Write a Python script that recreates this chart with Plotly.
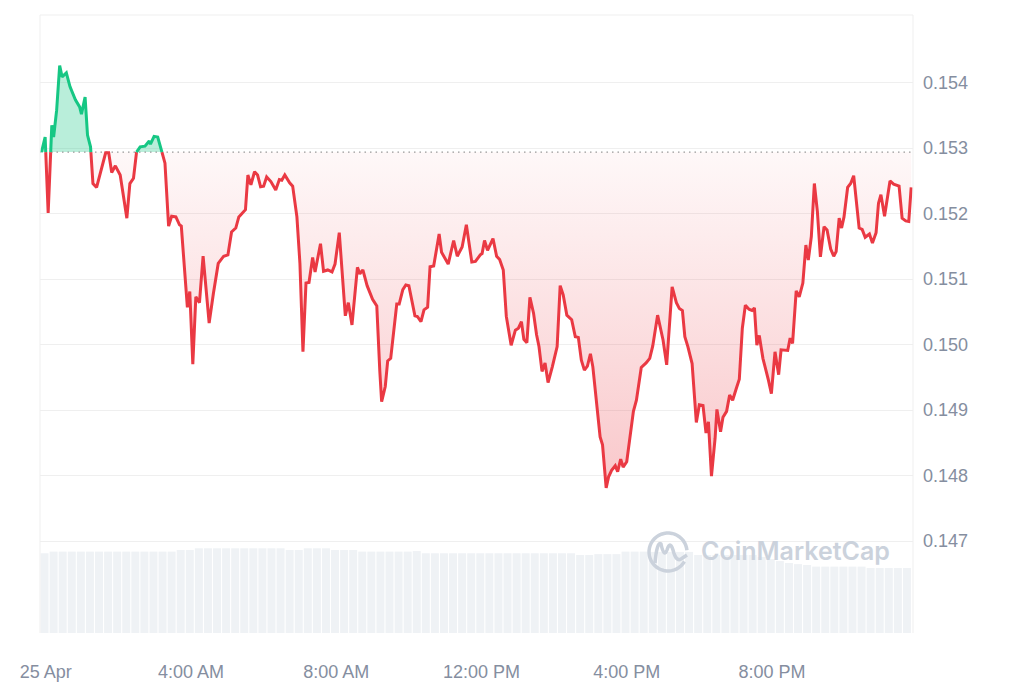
import math
import plotly.graph_objects as go

# ---------------- data ----------------
open_price = 0.15294  # reference price shown by the dotted line

# minutes after 00:00 on 25 Apr
minutes = [-7, -1, 4, 10, 13, 18, 23, 27, 34, 40, 49, 56, 59, 65, 69, 74, 78, 84, 92, 99,
           104, 109, 115, 123, 134, 139, 145, 150, 156, 164, 171, 173, 179, 185, 192, 197, 203, 208, 215, 221,
           224, 230, 234, 238, 243, 248, 254, 260, 263, 270, 277, 285, 294, 301, 307, 314, 319, 330, 334, 339,
           345, 350, 355, 360, 365, 372, 380, 386, 390, 395, 403, 408, 415, 420, 425, 430, 435, 441, 445, 454,
           459, 466, 473, 478, 485, 495, 500, 506, 515, 519, 524, 531, 540, 547, 552, 555, 561, 565, 570, 580,
           584, 590, 595, 600, 610, 614, 620, 625, 631, 635, 641, 650, 654, 665, 674, 680, 688, 695, 704, 710,
           718, 721, 725, 730, 739, 745, 750, 756, 761, 769, 776, 781, 786, 790, 795, 800, 806, 811, 815, 820,
           825, 830, 837, 845, 850, 855, 861, 869, 875, 880, 885, 890, 895, 900, 904, 910, 916, 920, 926, 930,
           935, 941, 945, 950, 954, 960, 965, 971, 976, 984, 992, 998, 1003, 1011, 1020, 1026, 1035, 1042, 1047, 1052,
           1056, 1061, 1068, 1075, 1080, 1086, 1091, 1095, 1100, 1106, 1109, 1115, 1119, 1125, 1130, 1135, 1141, 1146, 1151, 1156,
           1162, 1167, 1171, 1175, 1179, 1185, 1194, 1199, 1205, 1211, 1215, 1222, 1226, 1230, 1234, 1240, 1245, 1251, 1256, 1260,
           1265, 1270, 1275, 1280, 1286, 1291, 1297, 1302, 1306, 1311, 1315, 1319, 1325, 1330, 1335, 1344, 1349, 1354, 1361, 1366,
           1372, 1376, 1380, 1386, 1390, 1395, 1401, 1410, 1415, 1421, 1426, 1430]

prices = [0.15294, 0.15317, 0.15201, 0.15335, 0.15317, 0.15358, 0.15426, 0.15409, 0.15415, 0.15394,
          0.15374, 0.15363, 0.15352, 0.15378, 0.15320, 0.15302, 0.15246, 0.15240, 0.15269, 0.15293,
          0.15293, 0.15263, 0.15273, 0.15259, 0.15193, 0.15246, 0.15254, 0.15294, 0.15302, 0.15303,
          0.15311, 0.15306, 0.15318, 0.15317, 0.15294, 0.15277, 0.15181, 0.15196, 0.15195, 0.15183,
          0.15181, 0.15099, 0.15057, 0.15081, 0.14970, 0.15073, 0.15064, 0.15135, 0.15105, 0.15033,
          0.15078, 0.15124, 0.15135, 0.15137, 0.15172, 0.15178, 0.15195, 0.15206, 0.15259, 0.15244,
          0.15264, 0.15259, 0.15241, 0.15242, 0.15256, 0.15249, 0.15236, 0.15252, 0.15251, 0.15259,
          0.15247, 0.15242, 0.15195, 0.15124, 0.14989, 0.15094, 0.15095, 0.15133, 0.15111, 0.15154,
          0.15112, 0.15114, 0.15111, 0.15123, 0.15171, 0.15044, 0.15064, 0.15030, 0.15118, 0.15108,
          0.15114, 0.15090, 0.15069, 0.15059, 0.14959, 0.14913, 0.14936, 0.14975, 0.14979, 0.15062,
          0.15062, 0.15084, 0.15091, 0.15090, 0.15044, 0.15043, 0.15035, 0.15053, 0.15057, 0.15119,
          0.15120, 0.15169, 0.15141, 0.15123, 0.15159, 0.15135, 0.15149, 0.15183, 0.15126, 0.15127,
          0.15137, 0.15139, 0.15159, 0.15144, 0.15162, 0.15135, 0.15130, 0.15114, 0.15043, 0.14999,
          0.15022, 0.15025, 0.15035, 0.15008, 0.15003, 0.15072, 0.15048, 0.15015, 0.14997, 0.14959,
          0.14972, 0.14942, 0.14966, 0.14997, 0.15090, 0.15076, 0.15045, 0.15038, 0.15012, 0.15011,
          0.14976, 0.14961, 0.14967, 0.14986, 0.14966, 0.14912, 0.14859, 0.14847, 0.14781, 0.14798,
          0.14808, 0.14815, 0.14806, 0.14825, 0.14813, 0.14821, 0.14857, 0.14898, 0.14915, 0.14965,
          0.14972, 0.14979, 0.14998, 0.15045, 0.15007, 0.14969, 0.15088, 0.15064, 0.15055, 0.15052,
          0.15012, 0.14997, 0.14971, 0.14881, 0.14908, 0.14907, 0.14865, 0.14882, 0.14799, 0.14857,
          0.14901, 0.14867, 0.14889, 0.14898, 0.14923, 0.14915, 0.14933, 0.14947, 0.15025, 0.15060,
          0.15054, 0.15052, 0.15056, 0.14999, 0.15014, 0.14979, 0.14946, 0.14925, 0.14989, 0.14954,
          0.14992, 0.14992, 0.14991, 0.15010, 0.15002, 0.15082, 0.15073, 0.15094, 0.15152, 0.15129,
          0.15165, 0.15246, 0.15203, 0.15134, 0.15180, 0.15175, 0.15146, 0.15135, 0.15142, 0.15193,
          0.15178, 0.15195, 0.15240, 0.15246, 0.15258, 0.15178, 0.15176, 0.15164, 0.15169, 0.15155,
          0.15171, 0.15216, 0.15229, 0.15196, 0.15221, 0.15250, 0.15245, 0.15242, 0.15193, 0.15189,
          0.15188, 0.15240]

# volume bars, one per 15 minutes (arbitrary units, read as relative bar heights)
vol_minutes = [15 * k - 2 for k in range(96)]
volumes = [287, 293, 293, 293, 293, 293, 293, 293, 293, 293, 293, 293, 293, 293, 293, 299,
           299, 305, 305, 305, 305, 305, 305, 305, 305, 305, 305, 299, 299, 305, 305, 305,
           299, 299, 299, 293, 293, 293, 293, 293, 293, 295, 287, 287, 287, 287, 287, 287,
           287, 287, 287, 287, 287, 287, 287, 287, 287, 287, 287, 281, 281, 284, 284, 284,
           293, 293, 293, 292, 292, 292, 292, 292, 281, 281, 281, 281, 281, 281, 281, 274,
           266, 259, 252, 248, 245, 239, 239, 239, 239, 239, 239, 234, 234, 234, 234, 234]

tick_minutes = [0, 240, 480, 720, 960, 1200]
tick_labels = ["25 Apr", "4:00 AM", "8:00 AM", "12:00 PM", "4:00 PM", "8:00 PM"]
price_ticks = [0.147, 0.148, 0.149, 0.150, 0.151, 0.152, 0.153, 0.154]
price_tick_labels = ["0.147", "0.148", "0.149", "0.150", "0.151", "0.152", "0.153", "0.154"]

# ---------------- styling ----------------
GREEN = "#16c784"
RED = "#ea3943"
GRID = "#efefef"
TEXT = "#858ea0"
MARK = "#cbd2dc"
X_RANGE = [-9.5, 1433]
Y_RANGE = [0.145595, 0.155034]

# insert the crossings with the open price so the two colours meet cleanly
base = open_price
xs, ys = [minutes[0]], [prices[0]]
for i in range(1, len(prices)):
    t0, p0, t1, p1 = minutes[i - 1], prices[i - 1], minutes[i], prices[i]
    if (p0 - base) * (p1 - base) < 0:
        tc = t0 + (base - p0) / (p1 - p0) * (t1 - t0)
        xs.append(tc)
        ys.append(base)
    xs.append(t1)
    ys.append(p1)

upper = [max(v, base) for v in ys]
lower = [min(v, base) for v in ys]
green_line = [v if v >= base else None for v in ys]
red_line = [v if v <= base else None for v in ys]
base_line = [base for _ in ys]

fig = go.Figure()

fig.add_trace(go.Bar(x=vol_minutes, y=volumes, yaxis="y2", marker=dict(color="#eff2f5", line=dict(width=0)),
                     hoverinfo="skip", showlegend=False))

fig.add_trace(go.Scatter(x=xs, y=base_line, mode="lines", line=dict(width=0), hoverinfo="skip", showlegend=False))
fig.add_trace(go.Scatter(x=xs, y=upper, mode="lines", line=dict(width=0), fill="tonexty",
                         fillcolor="rgba(22,199,132,0.30)", hoverinfo="skip", showlegend=False))
fig.add_trace(go.Scatter(x=xs, y=base_line, mode="lines", line=dict(width=0), hoverinfo="skip", showlegend=False))
fig.add_trace(go.Scatter(x=xs, y=lower, mode="lines", line=dict(width=0), fill="tonexty",
                         fillcolor="rgba(234,57,67,0.10)",
                         fillgradient=dict(type="vertical",
                                           colorscale=[[0, "rgba(234,57,67,0.28)"], [1, "rgba(234,57,67,0.035)"]],
                                           start=min(prices), stop=base),
                         hoverinfo="skip", showlegend=False))

fig.add_trace(go.Scatter(x=X_RANGE, y=[base, base], mode="lines",
                         line=dict(color="#999999", width=1.4, dash="1.5px,4px"),
                         hoverinfo="skip", showlegend=False))

fig.add_trace(go.Scatter(x=xs, y=red_line, mode="lines", line=dict(color=RED, width=3),
                         connectgaps=False, hoverinfo="skip", showlegend=False))
fig.add_trace(go.Scatter(x=xs, y=green_line, mode="lines", line=dict(color=GREEN, width=3),
                         connectgaps=False, hoverinfo="skip", showlegend=False))

# ---------------- layout (screen pixels; the page body adds an 8px offset) ----------------
L, R, T, B = 40, 913, 15, 633
OFF = 8
FIG_W, FIG_H = 1024, 683


def px(x):
    return (x - L) / (R - L)


def py(y):
    return (B - y) / (B - T)


def arc_path(cx, cy, r, a0, a1, steps=8):
    pts = []
    for s in range(steps + 1):
        a = math.radians(a0 + (a1 - a0) * s / steps)
        pts.append((cx + r * math.cos(a), cy - r * math.sin(a)))
    d = "M %f,%f" % (px(pts[0][0]), py(pts[0][1]))
    for (x, y) in pts[1:]:
        d += " L %f,%f" % (px(x), py(y))
    return d


logo_shapes = [
    dict(type="path", xref="paper", yref="paper", path=arc_path(668, 552, 19, 5, 330, 40),
         line=dict(color=MARK, width=3.5)),
    dict(type="path", xref="paper", yref="paper",
         path="M %f,%f Q %f,%f %f,%f Q %f,%f %f,%f Q %f,%f %f,%f Q %f,%f %f,%f Q %f,%f %f,%f" % (
             px(655), py(563), px(657), py(541), px(661), py(544),
             px(664), py(558), px(667), py(550),
             px(670), py(540), px(673), py(550),
             px(676), py(562), px(681), py(559),
             px(684), py(557), px(687), py(555)),
         line=dict(color=MARK, width=3.5)),
]

border_shapes = [
    dict(type="line", xref="paper", yref="paper", x0=0, x1=0, y0=0, y1=1, line=dict(color=GRID, width=1)),
    dict(type="line", xref="paper", yref="paper", x0=1, x1=1, y0=0, y1=1, line=dict(color=GRID, width=1)),
    dict(type="line", xref="paper", yref="paper", x0=0, x1=1, y0=1, y1=1, line=dict(color=GRID, width=1)),
]

fig.update_layout(
    width=FIG_W, height=FIG_H, autosize=False,
    margin=dict(l=L - OFF, r=FIG_W - (R - OFF), t=T - OFF, b=FIG_H - (B - OFF), pad=0, autoexpand=False),
    paper_bgcolor="white", plot_bgcolor="white",
    font=dict(family="Liberation Sans, Arial, sans-serif", size=18, color=TEXT),
    showlegend=False, bargap=0.12, hovermode=False,
    xaxis=dict(range=X_RANGE, tickvals=tick_minutes, ticktext=tick_labels, showgrid=False,
               zeroline=False, showline=False, ticks="", ticklabelstandoff=26, automargin=False,
               tickfont=dict(size=18, color=TEXT)),
    yaxis=dict(range=Y_RANGE, side="right", tickvals=price_ticks, ticktext=price_tick_labels,
               showgrid=True, gridcolor=GRID, gridwidth=1, zeroline=False, showline=False, ticks="",
               ticklabelstandoff=9, automargin=False, tickfont=dict(size=18, color=TEXT)),
    yaxis2=dict(range=[0, 2225], overlaying="y", visible=False, showgrid=False, automargin=False),
    shapes=border_shapes + logo_shapes,
    annotations=[dict(text="CoinMarketCap", xref="paper", yref="paper", x=px(795), y=py(551),
                      xanchor="center", yanchor="middle", showarrow=False,
                      font=dict(family="Inter, Open Sans, sans-serif", size=25, color=MARK, weight=600))],
)

fig.write_html("out.html", config={"displayModeBar": False})
